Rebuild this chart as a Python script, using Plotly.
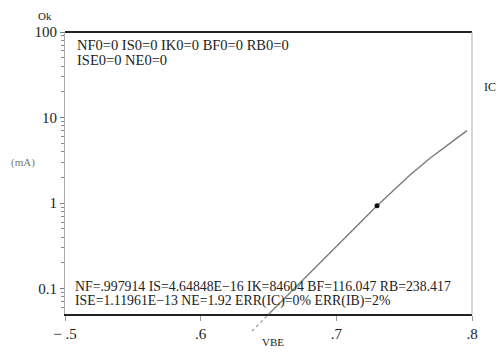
import plotly.graph_objects as go

# Data
VBE = [0.6378, 0.6511, 0.6791, 0.7064, 0.7300, 0.7543, 0.7690, 0.7963]
IC_mA = [0.032, 0.052, 0.146, 0.40, 0.93, 2.13, 3.34, 7.03]
mark_vbe = [0.7300]
mark_ic = [0.93]
x_ticks = [0.5, 0.6, 0.7, 0.8]
x_labels = ["\u2212 .5", ".6", ".7", ".8"]
y_ticks = [0.1, 1, 10, 100]
y_labels = ["0.1", "1", "10", "100"]
param_top = ["NF0=0 IS0=0 IK0=0 BF0=0 RB0=0", "ISE0=0 NE0=0"]
param_bot = ["NF=.997914 IS=4.64848E\u221216 IK=84604 BF=116.047 RB=238.417",
             "ISE=1.11961E\u221213 NE=1.92 ERR(IC)=0% ERR(IB)=2%"]

W, H = 500, 352
L, R, T, B = 65, 472, 32, 342
AX_BOTTOM = 318
FONT = "Liberation Serif, Times New Roman, serif"

def px(x):
    return (x - L) / (R - L)

def py(y):
    return (B - y) / (B - T)

minor_vals = [m * 10 ** e for e in range(-2, 2) for m in range(2, 10)]

fig = go.Figure()
# extension below the axis (faint, dotted)
fig.add_trace(go.Scatter(x=VBE[:3], y=IC_mA[:3], mode="lines", xaxis="x", yaxis="y2",
                         line=dict(color="#999", width=1.2, dash="dot"),
                         hoverinfo="skip", showlegend=False))
fig.add_trace(go.Scatter(x=VBE, y=IC_mA, mode="lines", xaxis="x", yaxis="y",
                         line=dict(color="#777", width=1.3), showlegend=False))
fig.add_trace(go.Scatter(x=mark_vbe, y=mark_ic, mode="markers", xaxis="x", yaxis="y",
                         marker=dict(color="#111", size=5), showlegend=False))

fig.update_layout(
    width=W, height=H,
    margin=dict(l=L, r=W - R, t=T, b=H - B),
    paper_bgcolor="white", plot_bgcolor="rgba(0,0,0,0)",
    font=dict(family=FONT, color="#222", size=13),
    showlegend=False,
    xaxis=dict(range=[0.5, 0.8], anchor="y", tickvals=x_ticks, ticktext=x_labels,
               showgrid=False, zeroline=False, showline=True, linecolor="#222", linewidth=2,
               ticks="outside", ticklen=5, tickcolor="#999", tickwidth=1,
               tickfont=dict(family=FONT, size=15, color="#222")),
    yaxis=dict(type="log", range=[-1.30, 2], domain=[(B - AX_BOTTOM) / (B - T), 1], anchor="x",
               tickvals=y_ticks, ticktext=y_labels, showgrid=False, zeroline=False,
               showline=True, linecolor="#aaa", linewidth=1,
               ticks="outside", ticklen=4, tickcolor="#777",
               minor=dict(tickvals=minor_vals, ticks="outside", ticklen=3, tickcolor="#888"),
               tickfont=dict(family=FONT, size=15, color="#222")),
    yaxis2=dict(type="log", range=[-1.575, 2], domain=[0, 1], anchor="x",
                showline=False, showticklabels=False, ticks="", showgrid=False, zeroline=False),
)

# top border (thick) and right border (thin gray)
fig.add_shape(type="line", xref="paper", yref="paper", x0=0, x1=1, y0=1, y1=1,
              line=dict(color="#222", width=2))
fig.add_shape(type="line", xref="paper", yref="paper", x0=1, x1=1, y0=1, y1=py(AX_BOTTOM),
              line=dict(color="#aaa", width=1))

def txt(s, x, y, size=12, anchor="left", color="#222"):
    fig.add_annotation(text=s, x=px(x), y=py(y), xref="paper", yref="paper",
                       showarrow=False, xanchor=anchor, yanchor="middle",
                       font=dict(family=FONT, size=size, color=color))

txt(param_top[0], 75, 45, 14.5)
txt(param_top[1], 75, 60, 14.5)
txt(param_bot[0], 73, 290, 13.8)
txt(param_bot[1], 73, 305, 13.8)
txt("Ok", 45, 16, 11, "center")
txt("(mA)", 23, 164, 11, "center", "#777")
txt("IC", 490, 88, 12, "center")
txt("VBE", 273, 346, 11, "center")

fig.write_html("out.html")
